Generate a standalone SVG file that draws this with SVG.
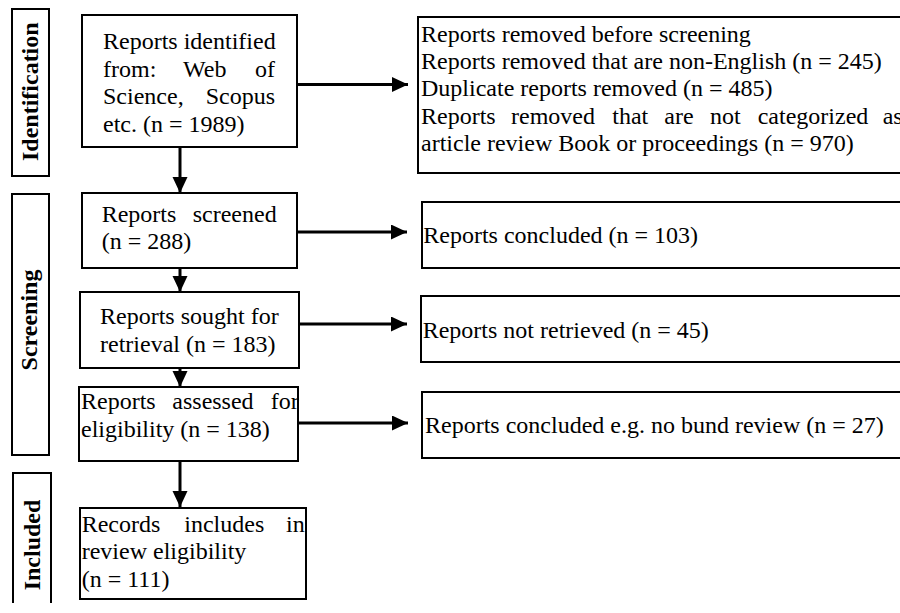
<svg xmlns="http://www.w3.org/2000/svg" width="900" height="613" viewBox="0 0 900 613">
<style>
.bx{fill:#fff;stroke:#000;stroke-width:2}
.t{font-family:"Liberation Serif","Times New Roman",serif;font-size:24px;fill:#000}
.lb{font-family:"Liberation Serif","Times New Roman",serif;font-size:24px;font-weight:bold;fill:#000;text-anchor:middle}
.e{text-anchor:end}
.ar{stroke:#000;stroke-width:3;fill:none;marker-end:url(#ah)}
</style>
<defs>
<marker id="ah" markerUnits="userSpaceOnUse" markerWidth="17" markerHeight="16" refX="16" refY="7.5" orient="auto">
<path d="M0,0 L16,7.5 L0,15 z" fill="#000"/>
</marker>
</defs>
<rect width="900" height="613" fill="#fff"/>

<g id="label-identification">
<rect class="bx" x="12" y="9" width="37" height="167"/>
<text class="lb" transform="translate(37.5,91.7) rotate(-90)">Identification</text>
</g>
<g id="label-screening">
<rect class="bx" x="12" y="194" width="37" height="261"/>
<text class="lb" transform="translate(37,320) rotate(-90)">Screening</text>
</g>
<g id="label-included">
<path class="bx" d="M13,603 V473 H51 V603"/>
<text class="lb" transform="translate(39.5,545) rotate(-90)">Included</text>
</g>

<g id="connectors">
<line class="ar" x1="298" y1="84.5" x2="408" y2="84.5"/>
<line class="ar" x1="298" y1="232" x2="407" y2="232"/>
<line class="ar" x1="299" y1="324" x2="407" y2="324"/>
<line class="ar" x1="298" y1="423" x2="408" y2="423"/>
<line class="ar" x1="180" y1="148" x2="180" y2="193"/>
<line class="ar" x1="180" y1="269" x2="180" y2="292"/>
<line class="ar" x1="180" y1="369" x2="180" y2="387"/>
<line class="ar" x1="180" y1="462" x2="180" y2="507"/>
</g>

<g id="identified">
<rect class="bx" x="82" y="15" width="215" height="132"/>
<text class="t" x="103" y="49.3">Reports identified</text>
<text class="t" y="76.8"><tspan x="103">from:</tspan><tspan x="183">Web</tspan><tspan x="275" class="e" text-anchor="end">of</tspan></text>
<text class="t" y="104.2" x="103">Science,</text>
<text class="t e" y="104.2" x="275">Scopus</text>
<text class="t" x="103" y="131.6">etc. (n = 1989)</text>
</g>

<g id="removed">
<rect class="bx" x="418" y="17" width="500" height="156"/>
<text class="t" x="421" y="41.5">Reports removed before screening</text>
<text class="t" x="421" y="68.9">Reports removed that are non-English (n = 245)</text>
<text class="t" x="421" y="96.3">Duplicate reports removed (n = 485)</text>
<text class="t" y="123.7"><tspan x="421">Reports</tspan><tspan x="511">removed</tspan><tspan x="612.3">that</tspan><tspan x="664.3">are</tspan><tspan x="710">not</tspan><tspan x="757.7">categorized</tspan><tspan x="882.7">as</tspan></text>
<text class="t" x="421" y="151.1">article review Book or proceedings (n = 970)</text>
</g>

<g id="screened">
<rect class="bx" x="82" y="193" width="215" height="75"/>
<text class="t" x="101.7" y="221.7">Reports</text>
<text class="t e" x="276.7" y="221.7">screened</text>
<text class="t" x="101.7" y="249">(n = 288)</text>
</g>

<g id="concluded">
<rect class="bx" x="422" y="202" width="500" height="66"/>
<text class="t" x="423.3" y="243">Reports concluded (n = 103)</text>
</g>

<g id="sought">
<rect class="bx" x="80" y="292" width="219" height="76"/>
<text class="t" x="100" y="324.3">Reports sought for</text>
<text class="t" x="100" y="351.7">retrieval (n = 183)</text>
</g>

<g id="not-retrieved">
<rect class="bx" x="421" y="296" width="500" height="66"/>
<text class="t" x="422.7" y="337.7">Reports not retrieved (n = 45)</text>
</g>

<g id="assessed">
<rect class="bx" x="79" y="387" width="219" height="74"/>
<text class="t" y="409.3"><tspan x="81">Reports</tspan><tspan x="172.3">assessed</tspan><tspan x="270.7">for</tspan></text>
<text class="t" x="81" y="436.7">eligibility (n = 138)</text>
</g>

<g id="excluded">
<rect class="bx" x="422" y="392" width="500" height="66"/>
<text class="t" x="425" y="433.3">Reports concluded e.g. no bund review (n = 27)</text>
</g>

<g id="included">
<rect class="bx" x="80" y="508" width="226" height="91"/>
<text class="t" y="531.7"><tspan x="81.7">Records</tspan><tspan x="184.3">includes</tspan><tspan x="286">in</tspan></text>
<text class="t" x="81.7" y="559.3">review eligibility</text>
<text class="t" x="81.7" y="586.7">(n = 111)</text>
</g>
</svg>
